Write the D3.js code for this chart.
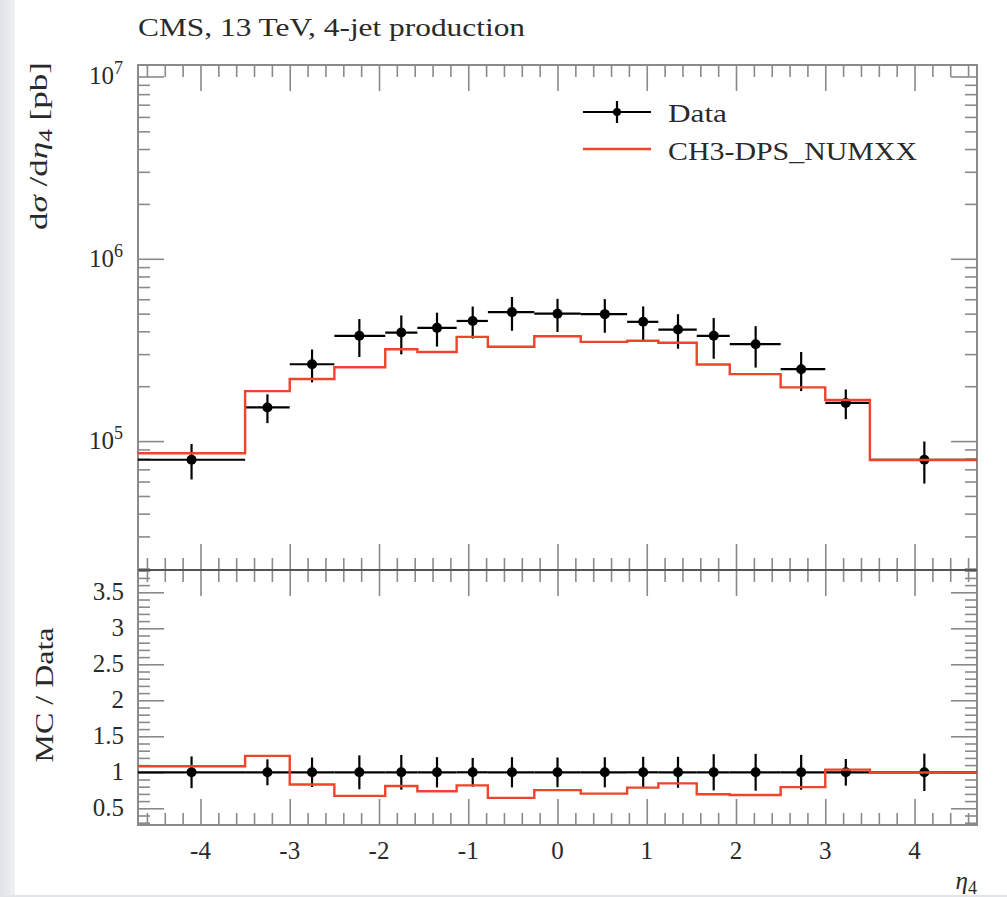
<!DOCTYPE html>
<html><head><meta charset="utf-8">
<script src="https://cdn.jsdelivr.net/npm/d3@7"></script>
<style>
body{margin:0;background:#fff}
svg{display:block}
text{font-family:"Liberation Serif","Times New Roman",serif;fill:#2a2a2a}
</style>
</head><body>
<svg id="chart" width="1007" height="897"></svg>
<script>
// ---------------- data ----------------
const binEdges   = [-4.7, -3.5, -3.0, -2.5, -1.93, -1.57, -1.13, -0.78, -0.26, 0.26, 0.78, 1.13, 1.56, 1.93, 2.5, 3.0, 3.5, 4.7];
const binCenters = [-4.1, -3.25, -2.75, -2.22, -1.75, -1.35, -0.95, -0.51, 0.0, 0.53, 0.96, 1.35, 1.75, 2.22, 2.73, 3.23, 4.11];
const dataValues = [7.9e4, 1.53e5, 2.64e5, 3.78e5, 3.94e5, 4.18e5, 4.56e5, 5.1e5, 5.0e5, 4.97e5, 4.51e5, 4.09e5, 3.78e5, 3.40e5, 2.48e5, 1.62e5, 7.9e4];
const dataErrors = [1.74e4, 2.75e4, 5.4e4, 8.9e4, 9.5e4, 8.8e4, 9.1e4, 1.07e5, 1.03e5, 1.04e5, 9.7e4, 8.8e4, 9.5e4, 8.7e4, 6.0e4, 3.0e4, 2.05e4];
const mcValues   = [8.57e4, 1.88e5, 2.19e5, 2.54e5, 3.19e5, 3.08e5, 3.73e5, 3.29e5, 3.76e5, 3.50e5, 3.55e5, 3.46e5, 2.63e5, 2.33e5, 1.97e5, 1.68e5, 7.87e4];

const xMajorTicks   = [-4, -3, -2, -1, 0, 1, 2, 3, 4];
const xTickLabels   = ["-4", "-3", "-2", "-1", "0", "1", "2", "3", "4"];
const logMajorTicks = [1e5, 1e6, 1e7];
const logTickExps   = ["5", "6", "7"];
const ratioMajorTicks = [0.5, 1, 1.5, 2, 2.5, 3, 3.5];
const ratioTickLabels = ["0.5", "1", "1.5", "2", "2.5", "3", "3.5"];

const titleText   = "CMS, 13 TeV, 4-jet production";
const legendNames = ["Data", "CH3-DPS_NUMXX"];
const ratioLabel  = "MC / Data";

// ---------------- layout ----------------
const L = 138, R = 977, T = 65, MB = 570, RB = 825;
const MAJ = 26, MIN = 12;
const RED = "#f0432c";
const FRAME = "#8a8a8a";

const svg = d3.select("#chart");

// background bands (screenshot edges)
const defs = svg.append("defs");
const g1 = defs.append("linearGradient").attr("id","lg").attr("x1","0").attr("x2","1");
g1.append("stop").attr("offset","0").attr("stop-color","#dfe2e6");
g1.append("stop").attr("offset","1").attr("stop-color","#eef0f2");
svg.append("rect").attr("x",0).attr("y",0).attr("width",15).attr("height",897).attr("fill","url(#lg)");

const x  = d3.scaleLinear([-4.7, 4.7], [L, R]);
const y  = d3.scaleLog([1.963e4, 1.156e7], [MB, T]);
const yr = d3.scaleLinear([0.268, 3.81], [RB, MB]);

const xMinor = d3.range(-46, 47, 2).map(v => v / 10).filter(v => Math.abs(v - Math.round(v)) > 1e-6);
const yMinor = y.ticks().filter(v => !logMajorTicks.some(m => Math.abs(m - v) / m < 1e-6));
const rMinor = d3.range(3, 39).map(v => v / 10).filter(v => Math.abs(v * 2 - Math.round(v * 2)) > 1e-6);

function styleAxis(g) {
  g.select(".domain").remove();
  g.selectAll(".tick line").attr("stroke", FRAME).attr("stroke-width", 1.6);
  g.selectAll(".tick text").remove();
}

function xAxes(top, bottom) {
  svg.append("g").attr("transform", `translate(0,${top})`)
    .call(d3.axisTop(x).tickValues(xMajorTicks).tickSize(-MAJ)).call(styleAxis);
  svg.append("g").attr("transform", `translate(0,${top})`)
    .call(d3.axisTop(x).tickValues(xMinor).tickSize(-MIN)).call(styleAxis);
  svg.append("g").attr("transform", `translate(0,${bottom})`)
    .call(d3.axisBottom(x).tickValues(xMajorTicks).tickSize(-MAJ)).call(styleAxis);
  svg.append("g").attr("transform", `translate(0,${bottom})`)
    .call(d3.axisBottom(x).tickValues(xMinor).tickSize(-MIN)).call(styleAxis);
}
xAxes(T, MB);
xAxes(MB, RB);

function yAxes(scale, majors, minors) {
  svg.append("g").attr("transform", `translate(${L},0)`)
    .call(d3.axisLeft(scale).tickValues(majors).tickSize(-MAJ)).call(styleAxis);
  svg.append("g").attr("transform", `translate(${L},0)`)
    .call(d3.axisLeft(scale).tickValues(minors).tickSize(-MIN)).call(styleAxis);
  svg.append("g").attr("transform", `translate(${R},0)`)
    .call(d3.axisRight(scale).tickValues(majors).tickSize(-MAJ)).call(styleAxis);
  svg.append("g").attr("transform", `translate(${R},0)`)
    .call(d3.axisRight(scale).tickValues(minors).tickSize(-MIN)).call(styleAxis);
}
yAxes(y, logMajorTicks, yMinor);
yAxes(yr, ratioMajorTicks, rMinor);

// frames
svg.append("rect").attr("x", L).attr("y", T).attr("width", R - L).attr("height", MB - T)
  .attr("fill", "none").attr("stroke", FRAME).attr("stroke-width", 2);
svg.append("rect").attr("x", L).attr("y", MB).attr("width", R - L).attr("height", RB - MB)
  .attr("fill", "none").attr("stroke", FRAME).attr("stroke-width", 2);
svg.append("line").attr("x1", L).attr("x2", R).attr("y1", MB).attr("y2", MB)
  .attr("stroke", "#555").attr("stroke-width", 2);

// ---------- tick labels ----------
const lg = svg.append("g");
logMajorTicks.forEach((v, i) => {
  const t = lg.append("text").attr("x", 123).attr("y", y(v) + 8).attr("text-anchor", "end")
    .style("font-size", "25px");
  t.append("tspan").text("10");
  t.append("tspan").attr("dy", -10).style("font-size", "18px").text(logTickExps[i]);
});
ratioMajorTicks.forEach((v, i) => {
  lg.append("text").attr("x", 124).attr("y", yr(v) + 8).attr("text-anchor", "end")
    .style("font-size", "25px").text(ratioTickLabels[i]);
});
xMajorTicks.forEach((v, i) => {
  lg.append("text").attr("x", x(v)).attr("y", 859).attr("text-anchor", "middle")
    .style("font-size", "25px").text(xTickLabels[i]);
});

// ---------- axis titles ----------
svg.append("text").attr("x", L).attr("y", 36).style("font-size", "25px")
  .attr("textLength", 387).attr("lengthAdjust", "spacingAndGlyphs").text(titleText);

const yl = svg.append("text").attr("transform", "translate(47,62) rotate(-90)")
  .attr("text-anchor", "end").style("font-size", "25px")
  .attr("textLength", 168).attr("lengthAdjust", "spacingAndGlyphs");
yl.append("tspan").text("d");
yl.append("tspan").style("font-style", "italic").text("σ");
yl.append("tspan").text(" /d");
yl.append("tspan").style("font-style", "italic").text("η");
yl.append("tspan").attr("dy", 5).style("font-size", "18px").text("4");
yl.append("tspan").attr("dy", -5).text(" [pb]");

svg.append("text").attr("transform", "translate(53,695) rotate(-90)")
  .attr("text-anchor", "middle").style("font-size", "25px")
  .attr("textLength", 135).attr("lengthAdjust", "spacingAndGlyphs").text(ratioLabel);

const xl = svg.append("text").attr("x", 977).attr("y", 889).attr("text-anchor", "end")
  .style("font-size", "25px");
xl.append("tspan").style("font-style", "italic").text("η");
xl.append("tspan").attr("dy", 5).style("font-size", "18px").text("4");

// ---------- main panel marks ----------
const bins = dataValues.map((v, i) => ({
  x0: binEdges[i], x1: binEdges[i + 1], xc: binCenters[i],
  v, e: dataErrors[i], mc: mcValues[i]
}));

const dataG = svg.append("g").attr("stroke", "#000").attr("stroke-width", 2.2);
dataG.selectAll(".h").data(bins).join("line")
  .attr("x1", d => x(d.x0)).attr("x2", d => x(d.x1))
  .attr("y1", d => y(d.v)).attr("y2", d => y(d.v));
dataG.selectAll(".v").data(bins).join("line")
  .attr("x1", d => x(d.xc)).attr("x2", d => x(d.xc))
  .attr("y1", d => y(d.v + d.e)).attr("y2", d => y(d.v - d.e));
svg.append("g").selectAll("circle").data(bins).join("circle")
  .attr("cx", d => x(d.xc)).attr("cy", d => y(d.v)).attr("r", 5).attr("fill", "#000");

const stepPts = bins.flatMap(d => [[d.x0, d.mc], [d.x1, d.mc]]);
svg.append("path").datum(stepPts)
  .attr("d", d3.line().x(p => x(p[0])).y(p => y(p[1])))
  .attr("fill", "none").attr("stroke", RED).attr("stroke-width", 2.4);

// ---------- ratio panel marks ----------
const rG = svg.append("g").attr("stroke", "#000").attr("stroke-width", 2.2);
rG.selectAll(".h").data(bins).join("line")
  .attr("x1", d => x(d.x0)).attr("x2", d => x(d.x1))
  .attr("y1", yr(1)).attr("y2", yr(1));
rG.selectAll(".v").data(bins).join("line")
  .attr("x1", d => x(d.xc)).attr("x2", d => x(d.xc))
  .attr("y1", d => yr(1 + d.e / d.v)).attr("y2", d => yr(1 - d.e / d.v));
svg.append("g").selectAll("circle").data(bins).join("circle")
  .attr("cx", d => x(d.xc)).attr("cy", yr(1)).attr("r", 5).attr("fill", "#000");

const ratioPts = bins.flatMap(d => [[d.x0, d.mc / d.v], [d.x1, d.mc / d.v]]);
svg.append("path").datum(ratioPts)
  .attr("d", d3.line().x(p => x(p[0])).y(p => yr(p[1])))
  .attr("fill", "none").attr("stroke", RED).attr("stroke-width", 2.4);

// ---------- legend ----------
const leg = svg.append("g");
leg.append("line").attr("x1", 583).attr("x2", 651).attr("y1", 112).attr("y2", 112)
  .attr("stroke", "#000").attr("stroke-width", 2.2);
leg.append("line").attr("x1", 617).attr("x2", 617).attr("y1", 101).attr("y2", 123)
  .attr("stroke", "#000").attr("stroke-width", 2.2);
leg.append("circle").attr("cx", 617).attr("cy", 112).attr("r", 4).attr("fill", "#000");
leg.append("text").attr("x", 668).attr("y", 122).style("font-size", "25px")
  .attr("textLength", 59).attr("lengthAdjust", "spacingAndGlyphs").text(legendNames[0]);
leg.append("line").attr("x1", 583).attr("x2", 651).attr("y1", 149).attr("y2", 149)
  .attr("stroke", RED).attr("stroke-width", 2.4);
leg.append("text").attr("x", 668).attr("y", 160).style("font-size", "25px")
  .attr("textLength", 249).attr("lengthAdjust", "spacingAndGlyphs").text(legendNames[1]);

// bottom band of screenshot
svg.append("rect").attr("x", 0).attr("y", 895).attr("width", 1007).attr("height", 2).attr("fill", "#e2e4e7");
</script>
</body></html>
